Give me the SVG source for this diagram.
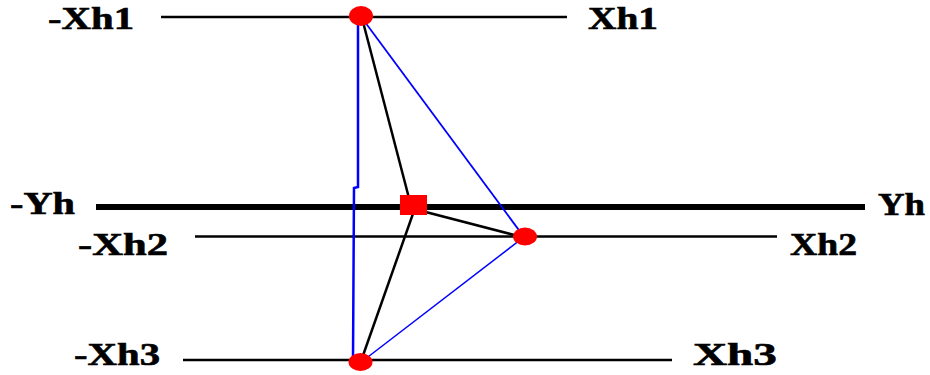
<svg xmlns="http://www.w3.org/2000/svg" width="930" height="375" viewBox="0 0 930 375">
<style>
.lbl{font-family:"Liberation Serif","Times New Roman",serif;font-weight:bold;font-size:31px;fill:#000;stroke:#000;stroke-width:0.6}
.axis{stroke:#000;stroke-width:2.5;fill:none}
.blk{stroke:#000;stroke-width:2.5;fill:none}
.blue{stroke:#0000ff;fill:none}
.pt{fill:#ff0000}
</style>
<rect width="930" height="375" fill="#fff"/>
<g id="axes">
<line class="axis" x1="161" y1="17" x2="567" y2="17"/>
<line x1="96" y1="207" x2="865" y2="207" stroke="#000" stroke-width="6"/>
<line class="axis" x1="195" y1="236.5" x2="777" y2="236.5"/>
<line class="axis" x1="183" y1="360" x2="672" y2="360"/>
</g>
<g id="labels">
<text class="lbl" x="48" y="29" textLength="86" lengthAdjust="spacingAndGlyphs">-Xh1</text>
<text class="lbl" x="588" y="29" textLength="70" lengthAdjust="spacingAndGlyphs">Xh1</text>
<text class="lbl" x="10" y="214" textLength="65" lengthAdjust="spacingAndGlyphs">-Yh</text>
<text class="lbl" x="878" y="215" textLength="47" lengthAdjust="spacingAndGlyphs">Yh</text>
<text class="lbl" x="78" y="255" textLength="90" lengthAdjust="spacingAndGlyphs">-Xh2</text>
<text class="lbl" x="790" y="255" textLength="67" lengthAdjust="spacingAndGlyphs">Xh2</text>
<text class="lbl" x="74" y="365" textLength="86" lengthAdjust="spacingAndGlyphs">-Xh3</text>
<text class="lbl" x="693" y="365" textLength="84" lengthAdjust="spacingAndGlyphs">Xh3</text>
</g>
<g id="connectors">
<polyline class="blue" stroke-width="2.5" points="358,18 358,187 354,188 353,361"/>
<line class="blk" x1="362" y1="18" x2="410" y2="202"/>
<line class="blk" x1="415" y1="208" x2="360" y2="364"/>
<line class="blk" x1="418" y1="210" x2="522" y2="237"/>
<line class="blue" stroke-width="1.8" x1="362" y1="18" x2="524" y2="237"/>
<line class="blue" stroke-width="1.5" x1="524" y1="237" x2="364" y2="360"/>
</g>
<g id="node-p1"><ellipse class="pt" cx="361" cy="16" rx="12" ry="10"/></g>
<g id="node-center"><rect class="pt" x="400" y="195" width="27" height="20"/></g>
<g id="node-p2"><ellipse class="pt" cx="525" cy="236.5" rx="12" ry="9"/></g>
<g id="node-p3"><ellipse class="pt" cx="360.5" cy="362" rx="12" ry="9"/></g>
</svg>
